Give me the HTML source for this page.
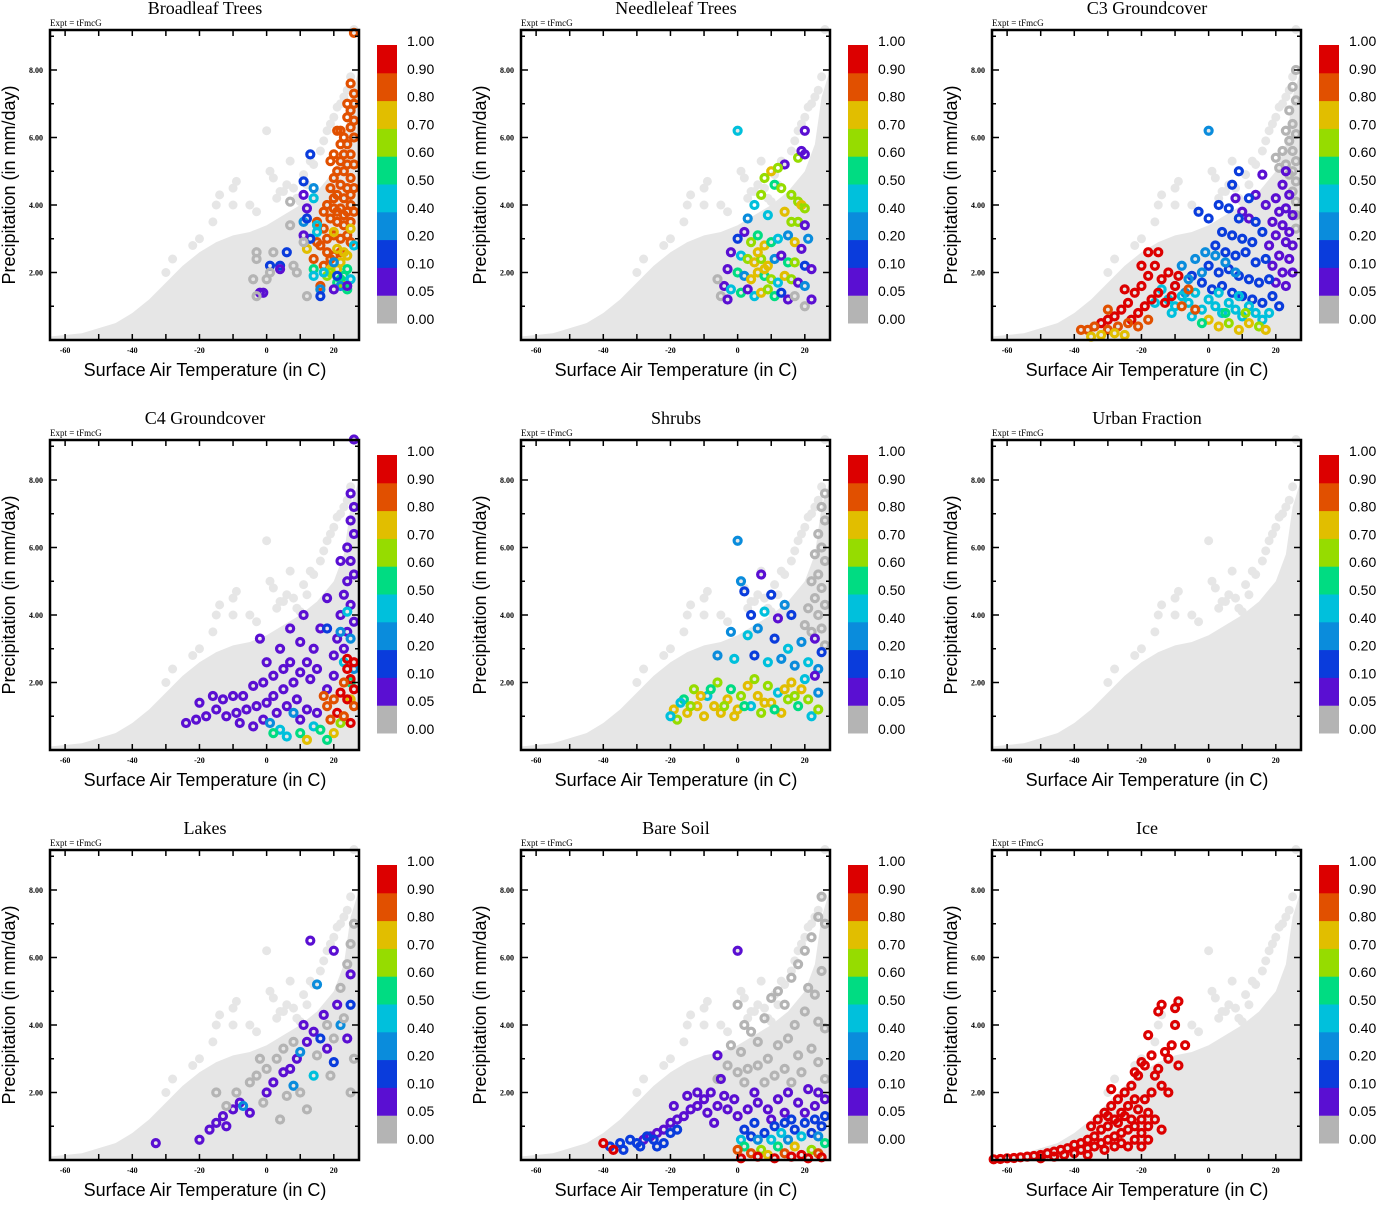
<!DOCTYPE html>
<html><head><meta charset="utf-8"><style>
body{margin:0;background:#fff}
svg text{font-family:"Liberation Sans",sans-serif}
.ser{font-family:"Liberation Serif",serif}
</style></head><body>
<svg id="chart" width="1377" height="1200" viewBox="0 0 1377 1200" xmlns="http://www.w3.org/2000/svg"></svg>
<script>
const titles=["Broadleaf Trees","Needleleaf Trees","C3 Groundcover","C4 Groundcover","Shrubs","Urban Fraction","Lakes","Bare Soil","Ice"];
const colorLevels=["0.00","0.05","0.10","0.20","0.40","0.50","0.60","0.70","0.80","0.90","1.00"];
const classColors=["#b4b4b4","#5a0fd2","#0a3cdc","#0a8cdc","#00c0dc","#00dc82","#96dc00","#e1be00","#e15000","#dc0000"];
const xTicks=[-60,-40,-20,0,20];
const yTicks=[2,4,6,8];
// background cloud envelope (temperature, upper precipitation)
const envT=[-65,-55,-45,-40,-35,-30,-25,-20,-15,-10,-5,0,5,10,15,20,23,25,27.5];
const envP=[0.1,0.2,0.5,0.8,1.2,1.7,2.2,2.6,2.9,3.1,3.2,3.4,3.7,4.0,4.4,5.0,5.8,7.2,8.0];
const bgT=[-22,-20,-15,-14,-10,-9,-10,-5,0,1,2,6,7,4,5,9,10,12,14,16,18,20,22,24,25,26,-16,-30,-28,-3,3,8,11,13,17,19,21,23];
const bgP=[2.8,3.0,4.0,4.3,4.5,4.7,4.0,4.0,6.2,5.0,4.8,4.6,5.3,4.4,4.4,4.2,4.1,4.6,5.2,5.6,6.2,6.6,7.0,7.4,7.8,9.2,3.5,2.0,2.4,3.8,4.2,4.5,4.9,5.3,5.9,6.4,6.9,7.2];
// colored series per panel: "T,P,class;..."
const seriesData=[
"25,7.6,8;26,7.3,8;26,7.0,8;25,6.8,8;24,6.6,8;25,6.3,8;26,6.0,8;21,6.2,8;22,6.2,8;23,6.0,8;24,5.8,8;25,5.5,8;26,5.2,8;23,5.5,8;22,5.3,8;20,5.5,8;19,5.3,8;21,5.0,8;23,5.0,8;25,4.8,8;26,4.5,8;24,4.5,8;22,4.6,8;20,4.8,8;19,4.5,8;21,4.3,8;23,4.2,8;25,4.0,8;26,3.8,8;24,3.8,8;22,3.9,8;20,3.9,8;18,4.0,8;17,3.8,8;19,3.6,8;21,3.5,8;23,3.4,8;25,3.5,8;17,3.3,8;18,3.0,8;20,3.1,8;22,3.0,8;24,3.1,8;15,2.9,8;16,2.8,8;18,2.6,8;20,2.5,8;22,2.6,8;15,3.5,8;17,2.2,8;14,2.4,8;16,1.6,8;19,2.4,8;25,2.9,8;26,9.1,8;26,6.5,8;24,7.0,8;22,5.8,8;24,5.2,8;20,4.2,8;25,4.3,8;21,3.8,8;23,3.7,8;12,2.7,7;20,3.2,7;21,2.7,7;23,2.6,7;22,2.3,7;19,2.1,7;25,3.3,7;24,2.5,7;21,2.1,7;18,1.9,6;22,1.8,5;23,1.9,5;21,1.7,5;19,2.0,6;24,2.1,5;14,2.1,5;23,1.6,6;24,1.5,5;14,1.9,4;17,2.0,4;25,1.8,4;15,3.4,4;26,2.8,4;14,4.2,4;15,3.2,4;14,4.5,3;16,1.5,3;22,1.6,3;20,2.3,3;11,3.5,3;13,5.5,2;11,4.7,2;6,2.6,2;4,2.2,2;1,2.2,2;16,1.3,2;21,1.9,2;12,3.6,2;13,3.0,2;11,4.3,1;12,3.9,1;4,2.1,1;-2,1.4,1;-1,1.4,1;11,3.1,1;24,1.6,1;20,1.5,1;7,4.1,0;7,3.4,0;-3,2.6,0;-3,2.4,0;2,2.6,0;0,1.8,0;1,2.0,0;-4,1.8,0;8,2.2,0;12,1.3,0;9,2.0,0;11,2.9,0;-3,1.3,0",
"0,6.2,4;20,6.2,1;14,5.2,1;18,5.4,6;19,5.6,1;20,5.5,1;10,5.0,7;12,5.1,6;8,4.8,6;11,4.6,5;13,4.5,6;16,4.3,6;18,4.1,6;19,4.0,7;20,3.9,6;7,4.3,6;5,4.0,4;3,3.6,3;9,3.7,4;14,3.8,7;16,3.5,6;18,3.5,6;20,3.4,1;21,3.0,3;2,3.2,1;0,3.0,2;4,2.9,6;6,3.1,5;8,2.8,7;10,2.9,5;12,3.0,4;15,3.1,3;17,2.9,7;19,2.7,1;-2,2.6,1;1,2.5,4;3,2.4,6;5,2.3,7;7,2.4,6;9,2.2,7;11,2.4,3;13,2.5,1;15,2.3,5;17,2.3,6;20,2.2,2;22,2.1,1;-3,2.1,1;0,2.0,5;2,1.9,3;4,1.8,7;6,2.0,7;8,1.9,5;10,1.8,6;12,1.7,4;14,1.9,7;16,1.8,6;18,1.7,1;20,1.6,3;-4,1.6,1;-2,1.5,4;1,1.4,5;3,1.5,1;5,1.3,4;7,1.4,7;9,1.5,6;11,1.3,5;13,1.4,2;15,1.2,1;-5,1.3,0;-6,1.8,0;17,1.3,0;20,1.0,0;22,1.2,1;-3,1.2,1;6,2.6,7;8,2.1,7",
"26,8.0,0;25,7.5,0;26,7.1,0;24,6.8,0;25,6.4,0;26,6.1,0;23,6.2,0;24,5.9,0;25,5.6,0;26,5.3,0;22,5.6,0;23,5.2,0;24,4.9,0;26,4.7,0;21,5.1,0;25,4.4,0;26,4.1,0;26,3.7,0;26,3.3,0;20,5.4,0;25,5.0,0;23,5.0,1;22,4.6,1;20,4.2,1;24,4.3,1;23,3.9,1;21,3.8,1;25,3.7,1;19,3.5,1;22,3.4,1;24,3.2,1;20,3.1,1;25,2.8,1;23,2.9,1;18,2.8,1;21,2.5,1;24,2.4,1;19,2.2,1;22,2.0,1;25,2.0,1;17,4.0,1;16,4.9,1;14,4.3,1;12,3.6,1;10,3.8,1;20,1.7,1;23,1.6,1;8,4.2,1;9,5.0,2;7,4.6,2;12,4.2,2;6,3.9,2;9,3.6,2;14,3.5,2;4,3.2,2;7,3.1,2;10,3.0,2;13,2.9,2;16,3.2,2;2,2.8,2;5,2.6,2;8,2.5,2;11,2.6,2;14,2.3,2;17,2.4,2;0,2.2,2;3,2.0,2;6,2.1,2;9,1.9,2;12,1.8,2;15,1.7,2;18,1.8,2;-2,1.7,2;1,1.5,2;4,1.6,2;7,1.4,2;10,1.3,2;13,1.2,2;16,1.1,2;19,1.3,2;21,1.0,2;-5,1.9,2;0,3.6,2;-3,3.8,2;3,4.0,2;-8,2.2,3;-6,1.8,3;-4,2.4,3;-2,2.0,3;-1,2.6,3;2,2.5,3;-10,1.6,3;-7,1.4,3;5,2.3,3;8,2.0,3;0,6.2,3;-14,1.5,4;-12,1.2,4;-10,1.0,4;-8,1.3,4;-6,1.1,4;-4,1.4,4;-2,0.9,4;0,1.2,4;2,1.0,4;4,0.8,4;6,1.1,4;8,0.9,4;10,0.7,4;12,1.0,4;14,0.8,4;16,0.6,4;18,0.8,4;-16,1.1,4;-11,0.8,4;-5,0.7,4;3,1.4,4;9,1.3,4;0,0.6,7;3,0.4,7;6,0.5,6;9,0.3,7;12,0.5,7;15,0.4,6;-2,0.5,5;17,0.3,7;5,0.8,5;11,0.8,6;-10,1.6,9;-12,2.0,9;-14,1.8,9;-16,2.2,9;-18,1.9,9;-20,1.6,9;-22,1.4,9;-24,1.1,9;-26,0.9,9;-28,0.7,9;-30,0.6,9;-32,0.5,9;-15,1.4,9;-17,1.2,9;-19,1.0,9;-21,0.8,9;-23,0.6,9;-13,1.1,9;-11,1.3,9;-9,1.9,9;-25,1.5,9;-18,2.6,9;-15,2.6,9;-20,2.2,9;-34,0.4,8;-36,0.3,8;-38,0.3,8;-30,0.3,8;-27,0.4,8;-24,0.5,8;-21,0.4,8;-18,0.6,8;-8,1.0,8;-6,1.5,8;-4,0.9,8;-30,0.9,8;-35,0.1,7;-32,0.15,7;-28,0.2,7;-25,0.15,7",
"25,7.6,1;26,7.2,1;25,6.8,1;26,6.4,1;24,6.0,1;25,5.6,1;26,5.2,1;24,5.0,1;23,4.6,1;25,4.3,1;22,4.0,1;26,3.8,1;24,3.5,1;21,3.3,1;23,3.0,1;20,2.8,1;26,9.2,1;22,5.6,1;18,4.5,1;16,3.6,1;14,3.0,1;12,2.6,1;10,2.3,1;8,2.0,1;5,1.8,1;2,1.6,1;0,1.4,1;-3,1.3,1;-6,1.2,1;-9,1.1,1;-12,1.0,1;-15,1.2,1;-18,1.0,1;-21,0.9,1;-24,0.8,1;-20,1.4,1;-16,1.6,1;-13,1.5,1;-10,1.6,1;-7,1.6,1;-4,1.9,1;-1,2.0,1;2,2.2,1;5,2.4,1;7,2.6,1;10,3.2,1;13,2.1,1;15,2.4,1;18,1.8,1;20,2.2,1;-8,0.8,1;-4,0.7,1;-1,0.9,1;3,1.1,1;6,1.3,1;9,1.5,1;12,1.2,1;15,1.1,1;10,0.9,1;0,2.6,1;-2,3.3,1;4,3.0,1;7,3.6,1;11,4.0,1;25,3.3,3;23,2.6,4;26,2.4,3;22,3.5,3;24,4.1,4;8,1.1,3;4,0.6,4;14,0.7,4;18,3.6,2;1,0.8,3;2,0.5,5;6,0.4,4;10,0.5,5;12,0.3,7;16,0.6,5;20,0.5,7;22,0.8,6;18,0.3,5;25,2.0,5;25,1.5,7;24,2.4,9;25,2.1,9;26,1.8,9;23,2.0,8;22,1.7,9;24,1.5,9;26,1.3,8;20,1.5,8;18,1.3,8;21,1.1,9;23,1.0,8;25,0.8,9;19,0.9,8;17,1.6,8;24,2.7,9;26,2.6,9",
"26,7.6,0;25,7.2,0;26,6.8,0;24,6.4,0;25,6.0,0;23,5.8,0;26,5.6,0;24,5.2,0;22,5.0,0;25,4.8,0;23,4.5,0;21,4.2,0;26,4.3,0;24,4.0,0;20,3.7,0;22,3.5,0;25,3.6,0;26,3.1,0;0,6.2,3;1,5.0,3;7,5.2,1;2,4.7,2;10,4.6,2;14,4.3,3;4,4.0,2;8,4.1,4;12,3.9,1;16,4.0,2;-2,3.5,3;3,3.4,4;6,3.6,3;11,3.3,2;15,3.0,4;19,3.2,3;23,3.3,1;25,2.9,2;-6,2.8,3;-1,2.7,4;5,2.8,2;9,2.6,4;13,2.7,3;17,2.5,3;21,2.6,4;24,2.4,3;-19,1.2,7;-18,0.9,6;-16,1.5,5;-15,1.1,7;-13,1.8,6;-12,1.3,7;-10,1.0,7;-9,1.6,4;-7,1.3,7;-6,2.0,6;-5,1.1,7;-3,1.5,7;-2,1.8,5;0,1.2,7;1,1.6,6;3,1.9,7;4,1.3,4;6,1.6,7;7,1.1,6;9,1.9,6;10,1.4,7;12,1.7,4;13,1.1,7;15,1.5,6;16,2.0,7;18,1.3,5;19,1.8,7;21,1.5,6;22,1.0,4;24,1.7,3;-17,1.4,4;-14,1.3,6;-11,1.6,7;-8,1.8,5;-4,1.3,6;-1,1.0,7;2,1.3,5;5,2.1,6;8,1.4,7;11,1.2,5;14,1.8,7;17,1.6,6;20,2.1,4;23,2.2,1;-20,1.0,4;24,1.2,6",
"",
"-33,0.5,1;-20,0.6,1;-17,0.9,1;-15,1.1,1;-13,1.3,1;-10,1.5,1;-8,1.7,1;-5,1.4,1;0,2.0,1;2,2.3,1;7,2.7,1;9,3.0,1;12,3.5,1;14,3.8,1;17,4.3,1;21,4.6,1;13,6.5,1;20,6.2,1;24,3.6,1;5,2.6,1;-12,1.0,1;11,4.0,1;18,3.3,1;25,5.5,1;16,3.6,2;10,3.2,3;22,4.0,3;15,5.2,3;25,4.6,2;8,2.2,3;14,2.5,4;20,2.9,2;-7,1.6,3;-5,2.3,0;-3,2.5,0;0,2.7,0;3,3.0,0;5,3.3,0;8,3.5,0;-9,2.0,0;-1,1.7,0;6,1.9,0;10,2.0,0;15,3.1,0;18,4.0,0;23,4.2,0;24,5.8,0;25,6.4,0;26,7.0,0;22,5.1,0;20,3.6,0;25,2.0,0;12,1.5,0;4,1.2,0;-12,1.6,0;-15,2.0,0;-2,3.0,0;19,2.5,0;26,3.0,0",
"0,4.6,0;2,4.0,0;4,3.8,0;-2,3.4,0;1,3.2,0;6,3.5,0;8,4.2,0;10,4.8,0;12,5.0,0;14,4.6,0;16,5.4,0;18,5.8,0;20,6.2,0;22,6.6,0;24,7.2,0;25,7.8,0;26,7.0,0;21,5.1,0;23,4.9,0;25,5.6,0;24,4.1,0;20,4.4,0;17,4.0,0;15,3.6,0;12,3.4,0;9,3.0,0;6,2.8,0;3,2.7,0;0,2.6,0;-3,2.8,0;-6,2.4,0;11,2.5,0;14,2.7,0;18,3.1,0;22,3.3,0;26,3.9,0;19,2.6,0;8,2.3,0;2,2.3,0;24,2.9,0;16,2.3,0;26,2.4,0;0,6.2,1;-6,3.1,1;-5,2.4,1;-8,2.0,1;-10,1.8,1;-12,1.6,1;-14,1.5,1;-16,1.3,1;-18,1.2,1;-20,1.1,1;-22,0.9,1;-24,0.8,1;-26,0.7,1;-28,0.6,1;-15,1.9,1;-12,2.0,1;-9,1.4,1;-6,1.6,1;-3,1.5,1;-4,1.9,1;-19,1.6,1;-7,1.1,1;0,1.3,1;3,1.5,1;6,1.7,1;9,1.5,1;12,1.8,1;15,2.0,1;18,1.7,1;21,2.1,1;24,2.0,1;26,1.8,1;10,1.2,1;20,1.4,1;5,2.0,1;14,1.4,1;23,1.6,1;-1,1.8,1;-38,0.4,2;-35,0.5,2;-32,0.6,2;-30,0.5,2;-27,0.7,2;-25,0.6,2;-22,0.5,2;-20,0.8,2;-18,0.9,2;-34,0.3,2;-29,0.4,2;-24,0.4,2;2,0.9,2;5,1.1,2;8,0.8,2;11,1.0,2;14,1.1,2;17,0.9,2;20,1.1,2;23,1.2,2;26,1.3,2;25,1.0,2;4,0.7,2;16,1.2,2;22,0.8,2;1,0.6,4;6,0.6,3;10,0.6,4;15,0.6,3;19,0.7,4;24,0.7,3;13,0.8,4;2,0.4,5;7,0.3,6;12,0.4,5;17,0.4,7;22,0.3,6;26,0.5,5;4,0.2,8;9,0.15,7;14,0.2,8;19,0.15,9;24,0.2,8;1,0.05,9;6,0.1,9;11,0.05,9;16,0.1,9;21,0.05,9;25,0.08,9;-40,0.5,9;-37,0.3,9;0,0.3,8",
"-64,0.02,9;-62,0.03,9;-60,0.05,9;-58,0.06,9;-56,0.08,9;-54,0.1,9;-52,0.12,9;-50,0.15,9;-48,0.2,9;-46,0.25,9;-44,0.3,9;-42,0.35,9;-40,0.45,9;-38,0.5,9;-36,0.6,9;-34,0.7,9;-32,0.9,9;-30,1.0,9;-28,1.2,9;-26,1.4,9;-24,1.6,9;-22,1.8,9;-40,0.2,9;-38,0.3,9;-36,0.35,9;-34,0.4,9;-32,0.5,9;-30,0.6,9;-28,0.7,9;-26,0.8,9;-24,0.9,9;-22,1.0,9;-20,1.2,9;-18,1.4,9;-35,1.0,9;-33,1.2,9;-31,1.4,9;-29,1.6,9;-27,1.8,9;-25,2.0,9;-23,2.2,9;-21,2.5,9;-19,2.8,9;-17,3.1,9;-15,2.7,9;-13,3.2,9;-11,3.4,9;-9,2.8,9;-7,3.4,9;-10,4.0,9;-9,4.7,9;-14,4.6,9;-15,4.4,9;-10,4.5,9;-18,3.7,9;-12,3.0,9;-20,2.9,9;-16,2.5,9;-14,2.2,9;-12,2.0,9;-22,2.6,9;-29,2.1,9;-30,1.3,9;-28,0.4,9;-26,0.5,9;-24,0.4,9;-22,0.6,9;-20,0.8,9;-18,1.0,9;-16,1.2,9;-14,0.9,9;-20,0.4,9;-18,0.6,9;-27,1.1,9;-25,1.3,9;-23,1.2,9;-21,1.5,9;-19,1.8,9;-17,2.0,9;-36,0.15,9;-46,0.1,9;-50,0.05,9;-43,0.15,9;-31,0.3,9"
];
const NS="http://www.w3.org/2000/svg";
const svg=document.getElementById('chart');
function mk(tag,attrs,parent){const e=document.createElementNS(NS,tag);for(const k in attrs)e.setAttribute(k,attrs[k]);(parent||svg).appendChild(e);return e;}
const PW=309,PH=310;
for(let i=0;i<9;i++){
  const ox=(i%3)*471, oy=Math.floor(i/3)*410;
  const L=50+ox,T=30+oy;
  const sx=t=>L+(t+64.5)*(PW/92);
  const sy=p=>T+PH-p*33.75;
  const g=mk('g',{});
  
  
  const cid='clip'+i;
  const cp=mk('clipPath',{id:cid},g);mk('rect',{x:L,y:T,width:PW,height:PH},cp);
  let d='M'+sx(envT[0])+','+sy(0);
  for(let k=0;k<envT.length;k++)d+=' L'+sx(envT[k])+','+sy(envP[k]);
  d+=' L'+sx(envT[envT.length-1])+','+sy(0)+' Z';
  const cloud=mk('path',{d:d,fill:'#e6e6e6','clip-path':'url(#'+cid+')'},g);
  
  
  for(let k=0;k<bgT.length;k++){
    const c=mk('circle',{cx:sx(bgT[k]),cy:sy(bgP[k]),r:4.5,fill:'#e6e6e6'},g);
    
    
  }
  if(seriesData[i]){
    seriesData[i].split(';').forEach(s=>{
      const v=s.split(',').map(Number);
      const c=mk('circle',{cx:sx(v[0]),cy:sy(v[1]),r:3.5,fill:'none',stroke:classColors[v[2]],'stroke-width':3.2},g);
      
      
    });
  }
  const fr=mk('rect',{x:L,y:T,width:PW,height:PH,fill:'none',stroke:'#000','stroke-width':2.5},g);
  
  
  for(let t=-60;t<=20;t+=10){
    const x=sx(t),len=6;
    mk('line',{x1:x,y1:T+PH,x2:x,y2:T+PH-len,stroke:'#000','stroke-width':1.5},g);
    mk('line',{x1:x,y1:T,x2:x,y2:T+len,stroke:'#000','stroke-width':1.5},g);
  }
  for(let p=1;p<=9;p++){
    const y=sy(p),len=p%2?4:7;
    mk('line',{x1:L,y1:y,x2:L+len,y2:y,stroke:'#000','stroke-width':1.5},g);
    mk('line',{x1:L+PW,y1:y,x2:L+PW-len,y2:y,stroke:'#000','stroke-width':1.5},g);
  }
  xTicks.forEach(t=>{
    const tx=mk('text',{x:sx(t),y:T+PH+13,'font-size':8,'font-weight':'bold','text-anchor':'middle',class:'ser'},g);
    tx.textContent=String(t);
    
    
  });
  yTicks.forEach(p=>{
    const tx=mk('text',{x:L-7,y:sy(p)+3,'font-size':8,'font-weight':'bold','text-anchor':'end',class:'ser'},g);
    tx.textContent=p.toFixed(2);
    
    
  });
  const ti=mk('text',{x:205+ox,y:14+oy,'font-size':18,'text-anchor':'middle',class:'ser'},g);
  ti.textContent=titles[i];
  
  
  const ex=mk('text',{x:L,y:T-4,'font-size':9,class:'ser'},g);
  ex.textContent='Expt = tFmcG';
  
  
  const xl=mk('text',{x:205+ox,y:376+oy,'font-size':18,'text-anchor':'middle'},g);
  xl.textContent='Surface Air Temperature (in C)';
  
  
  const yl=mk('text',{x:0,y:0,'font-size':18,'text-anchor':'middle',transform:'translate('+(15+ox)+','+(185+oy)+') rotate(-90)'},g);
  yl.textContent='Precipitation (in mm/day)';
  
  
  const cbTop=45+oy,cbH=278,seg=cbH/10,cbX=377+ox;
  for(let k=0;k<10;k++){
    const r=mk('rect',{x:cbX,y:cbTop+(9-k)*seg,width:20,height:seg+0.5,fill:classColors[k]},g);
    
    
  }
  for(let k=0;k<=10;k++){
    const tx=mk('text',{x:407+ox,y:cbTop+(10-k)*seg+1,'font-size':14},g);
    tx.textContent=colorLevels[k];
    
    
  }
}
</script>
</body></html>
